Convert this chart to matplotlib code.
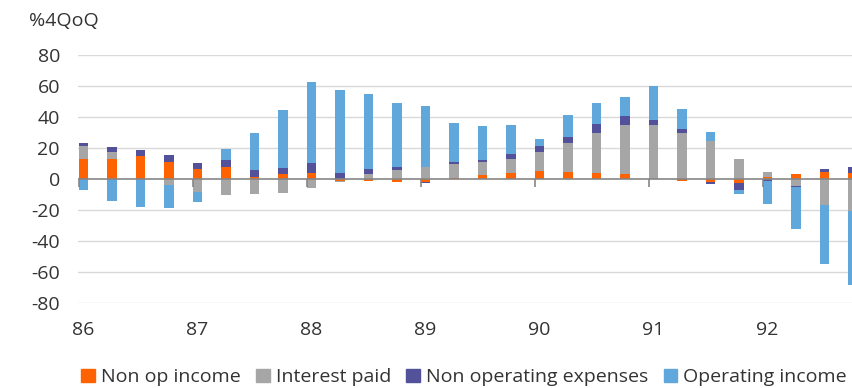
import numpy as np
import matplotlib.pyplot as plt
from matplotlib.patches import Patch

plt.rcParams['font.family'] = ['Open Sans', 'DejaVu Sans']
plt.rcParams['axes.unicode_minus'] = False

# quarterly, 86Q1 .. 92Q4
year_labels = ['86', '87', '88', '89', '90', '91', '92']

non_op_income = [13, 13, 15, 11, 6.2, 7.7, 1.5, 3.2,
                 3.9, -1, -1, -2.2, -1.7, 0.9, 2.6, 3.9,
                 5.4, 4.7, 3.9, 3.2, 0, -1.2, -2, -2.9,
                 1.1, 3, 4.7, 3.7]
interest_paid = [8, 4.6, 0, -3.7, -8.2, -10.5, -9.7, -9,
                 -6, -1, 3.4, 6, 7.5, 9, 8.1, 9.2,
                 12, 18.7, 26, 31.8, 35, 29.9, 24.3, 12.9,
                 3.4, -4.5, -16.8, -20.6]
non_op_expenses = [2.5, 3.3, 3.7, 4.5, 3.9, 4.6, 4.5, 3.7,
                   6.2, 3.9, 2.8, 1.9, -1, 1.1, 1.8, 3,
                   4.1, 3.5, 5.4, 5.4, 3.1, 2.4, -1.2, -3.9,
                   -1.3, -0.9, 1.5, 3.8]
operating_income = [-6.8, -14.4, -18.3, -15.2, -6.9, 6.8, 23.9, 37.6,
                    52.7, 53.5, 48.6, 40.9, 39.8, 24.9, 21.9, 18.9,
                    4.5, 14.2, 13.5, 12.3, 22.1, 12.7, 6.2, -3,
                    -15, -27.1, -37.8, -47.8]

series = [
    ('Non op income', non_op_income, '#FF6200'),
    ('Interest paid', interest_paid, '#A6A6A6'),
    ('Non operating expenses', non_op_expenses, '#525199'),
    ('Operating income', operating_income, '#60A8DC'),
]

n = len(non_op_income)
x = np.arange(n)
bar_w = 0.33
fs = 14

fig = plt.figure(figsize=(8.53, 3.88), dpi=100)
ax = fig.add_axes([78 / 853, 1 - 303 / 388, 1 - 78 / 853, (303 - 55) / 388])

# excel style stacking: positives up from 0, negatives down from 0
pos_base = np.zeros(n)
neg_base = np.zeros(n)
for name, vals, col in series:
    v = np.array(vals, dtype=float)
    bottom = np.where(v >= 0, pos_base, neg_base)
    ax.bar(x, v, bar_w, bottom=bottom, color=col, zorder=3)
    pos_base += np.clip(v, 0, None)
    neg_base += np.clip(v, None, 0)

ax.set_ylim(-80, 80)
ax.set_xlim(-0.193, n - 1)
ax.set_yticks(np.arange(-80, 81, 20))
ax.tick_params(axis='y', length=0, pad=13, labelsize=fs, labelcolor='#333333')
for yv in np.arange(-80, 81, 20):
    if yv != 0:
        ax.axhline(yv, color='#d9d9d9', lw=1, zorder=1)
ax.axhline(0, color='#868686', lw=1.2, zorder=4)

# year ticks sit on the zero line, labels at the bottom
year_idx = x[::4]
ax.vlines(year_idx - bar_w / 2, -5, 0, color='#868686', lw=1.2, zorder=4)
ax.set_xticks(year_idx)
ax.set_xticklabels(year_labels)
ax.tick_params(axis='x', length=0, pad=13, labelsize=fs, labelcolor='#333333')

for s in ax.spines.values():
    s.set_visible(False)

fig.text(29 / 853, 1 - 21 / 388, '%4QoQ', fontsize=fs, color='#333333', va='center', ha='left')

handles = [Patch(color=c) for _, _, c in series]
fig.legend(handles, [s[0] for s in series], loc='center', bbox_to_anchor=(0.544, 0.028),
           ncol=4, frameon=False, fontsize=fs, handlelength=0.7, handleheight=0.7,
           handletextpad=0.3, columnspacing=0.8, labelcolor='#333333')

fig.savefig('out.png', dpi=100)
